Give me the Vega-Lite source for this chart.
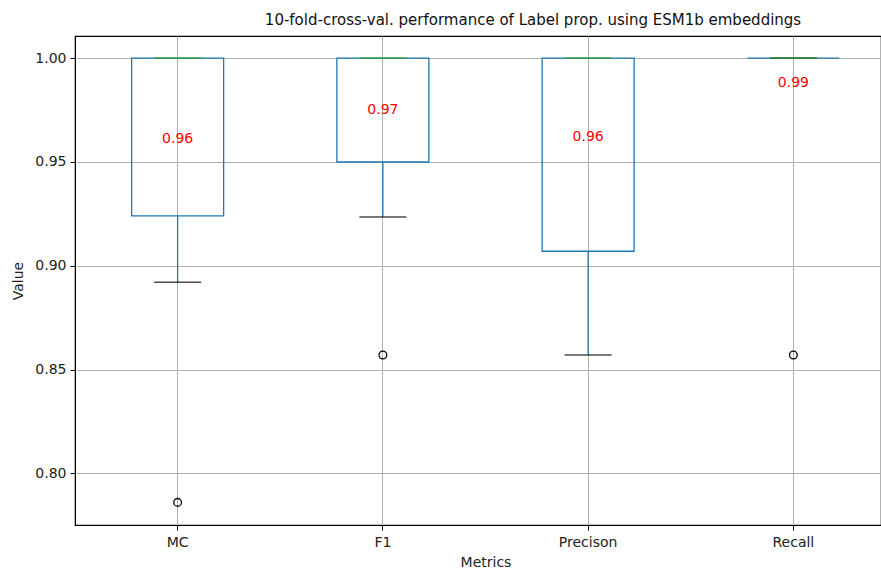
{
  "$schema": "https://vega.github.io/schema/vega-lite/v6.json",
  "autosize": {"type": "none"},
  "width": 806,
  "height": 489,
  "padding": {"left": 75, "top": 36, "right": 0, "bottom": 45},
  "background": "white",
  "config": {
    "font": "DejaVu Sans",
    "view": {"stroke": "black", "strokeWidth": 1.2},
    "axis": {
      "labelFont": "DejaVu Sans",
      "titleFont": "DejaVu Sans",
      "labelFontSize": 14,
      "titleFontSize": 14,
      "titleFontWeight": "normal",
      "labelColor": "#222",
      "titleColor": "#222",
      "domainColor": "black",
      "tickColor": "black",
      "tickSize": 5,
      "gridColor": "#b0b0b0",
      "gridWidth": 1
    }
  },
  "title": {
    "text": "10-fold-cross-val. performance of Label prop. using ESM1b embeddings",
    "font": "DejaVu Sans",
    "fontSize": 15,
    "fontWeight": "normal",
    "color": "#111",
    "anchor": "middle",
    "frame": "group",
    "dx": 55,
    "offset": 8
  },
  "datasets": {
    "stats": [
      {"metric": "MC", "q1": 0.924, "q3": 1.0, "median": 1.0, "lower": 0.892, "upper": 1.0, "mean": 0.959},
      {"metric": "F1", "q1": 0.95, "q3": 1.0, "median": 1.0, "lower": 0.9235, "upper": 1.0, "mean": 0.973},
      {"metric": "Precison", "q1": 0.907, "q3": 1.0, "median": 1.0, "lower": 0.857, "upper": 1.0, "mean": 0.960},
      {"metric": "Recall", "q1": 1.0, "q3": 1.0, "median": 1.0, "lower": 1.0, "upper": 1.0, "mean": 0.986}
    ],
    "outliers": [
      {"metric": "MC", "value": 0.786},
      {"metric": "F1", "value": 0.857},
      {"metric": "Recall", "value": 0.857}
    ]
  },
  "layer": [
    {
      "data": {"name": "stats"},
      "mark": {"type": "rule", "color": "#1f77b4", "strokeWidth": 1.3},
      "encoding": {
        "x": {
          "field": "metric", "type": "nominal", "sort": ["MC", "F1", "Precison", "Recall"],
          "scale": {"range": [0, 821], "paddingInner": 0, "paddingOuter": 0},
          "axis": {"title": "Metrics", "labelAngle": 0, "grid": true, "bandPosition": 0.5, "labelPadding": 5, "titlePadding": 6}
        },
        "y": {
          "field": "lower", "type": "quantitative",
          "scale": {"domain": [0.7751, 1.0107], "nice": false, "zero": false},
          "axis": {"title": "Value", "values": [0.8, 0.85, 0.9, 0.95, 1.0], "format": ".2f", "grid": true, "labelPadding": 4, "titlePadding": 9}
        },
        "y2": {"field": "q1"}
      }
    },
    {
      "data": {"name": "stats"},
      "mark": {"type": "bar", "fill": null, "fillOpacity": 0, "stroke": "#1f77b4", "strokeWidth": 1.3, "width": 92},
      "encoding": {
        "x": {"field": "metric", "type": "nominal", "sort": ["MC", "F1", "Precison", "Recall"]},
        "y": {"field": "q1", "type": "quantitative"},
        "y2": {"field": "q3"}
      }
    },
    {
      "data": {"name": "stats"},
      "mark": {"type": "tick", "color": "black", "thickness": 1.5, "size": 47},
      "encoding": {
        "x": {"field": "metric", "type": "nominal", "sort": ["MC", "F1", "Precison", "Recall"]},
        "y": {"field": "lower", "type": "quantitative"}
      }
    },
    {
      "data": {"name": "stats"},
      "mark": {"type": "tick", "color": "#2ca02c", "thickness": 1.8, "size": 47},
      "encoding": {
        "x": {"field": "metric", "type": "nominal", "sort": ["MC", "F1", "Precison", "Recall"]},
        "y": {"field": "median", "type": "quantitative"}
      }
    },
    {
      "data": {"name": "outliers"},
      "mark": {"type": "point", "shape": "circle", "filled": false, "stroke": "black", "strokeWidth": 1.3, "size": 60, "opacity": 1},
      "encoding": {
        "x": {"field": "metric", "type": "nominal", "sort": ["MC", "F1", "Precison", "Recall"]},
        "y": {"field": "value", "type": "quantitative"}
      }
    },
    {
      "data": {"name": "stats"},
      "mark": {"type": "text", "color": "red", "fontSize": 14, "baseline": "alphabetic", "align": "center", "font": "DejaVu Sans"},
      "encoding": {
        "x": {"field": "metric", "type": "nominal", "sort": ["MC", "F1", "Precison", "Recall"]},
        "y": {"field": "mean", "type": "quantitative"},
        "text": {"field": "mean", "type": "quantitative", "format": ".2f"}
      }
    }
  ]
}
